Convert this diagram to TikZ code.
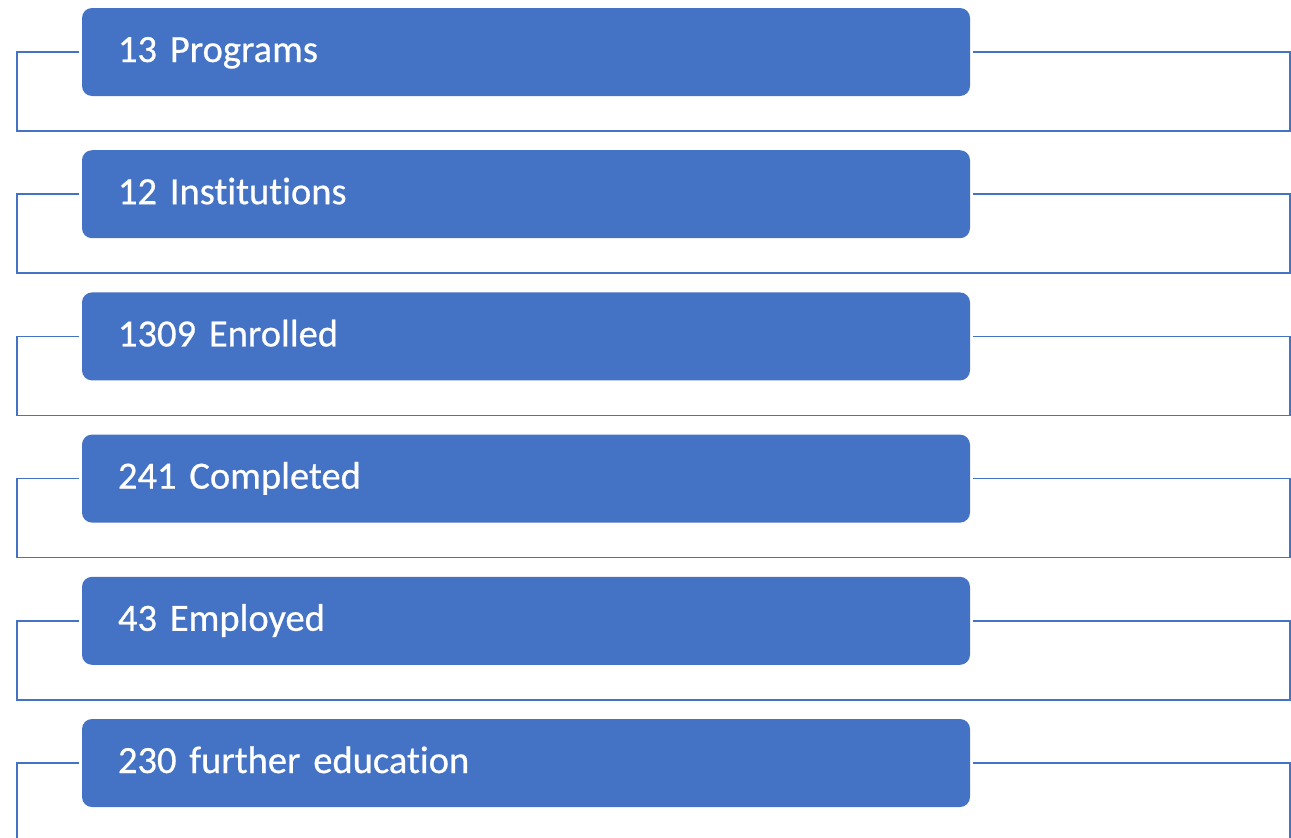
\documentclass[tikz,border=0pt]{standalone}
\usepackage{fontspec}
\setmainfont{Carlito}[Ligatures=NoCommon,FakeBold=0.6]
\usetikzlibrary{positioning,calc}
\definecolor{boxblue}{HTML}{4472C4}
\tikzset{stagebox/.style={draw=none, fill=boxblue, rounded corners=10pt,
    minimum width=888pt, minimum height=88pt, text width=816pt, inner xsep=36pt,
    align=left, text=white, font=\fontsize{38.5}{40}\selectfont,
    text height=25pt, text depth=5pt},
  frameline/.style={boxblue, line width=1.6pt, shorten <=3pt, shorten >=3pt}}

\begin{document}
\begin{tikzpicture}[x=1pt,y=-1pt]
\useasboundingbox (0,0) rectangle (1291,838);
\clip (0,0) rectangle (1291,838);

\foreach \i/\t in {1/13 Programs,2/12 Institutions,3/1309 Enrolled,4/241 Completed,5/43 Employed,6/230 further education}
         {
           \node[stagebox] (s\i) at (526,{52+142.2*(\i-1)}) {\t};
           \draw[frameline] (s\i.west) -| ([xshift=-65pt,yshift=-79pt]s\i.west)
                 -| ([xshift=320pt]s\i.east) -- (s\i.east);
         }
\end{tikzpicture}
\end{document}
